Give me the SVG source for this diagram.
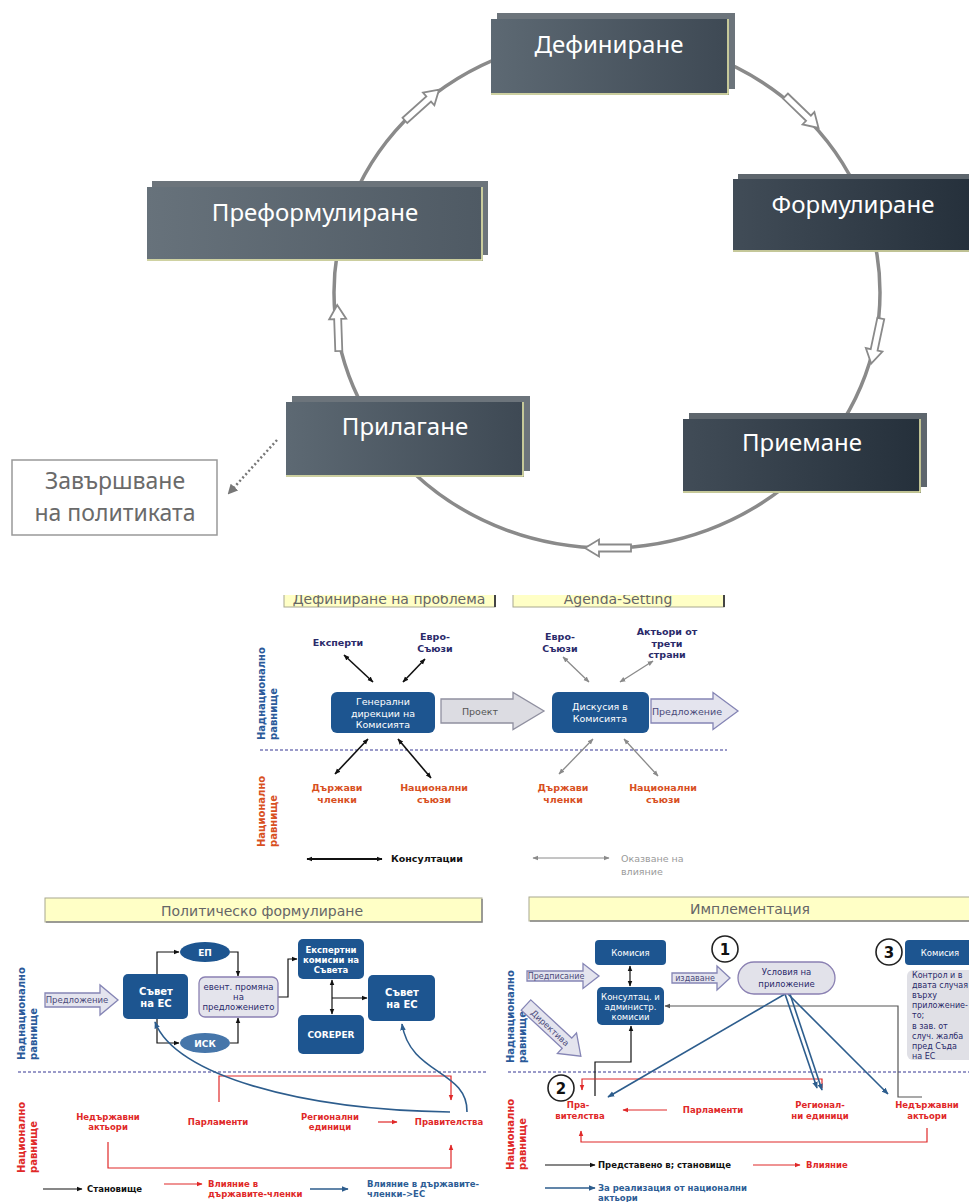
<svg xmlns="http://www.w3.org/2000/svg" width="969" height="1202" viewBox="0 0 969 1202">
<style>
.cyc{font-family:"Noto Sans","Open Sans",sans-serif;font-size:24px;fill:#fff;text-anchor:middle}
.end{font-family:"Noto Sans","Open Sans",sans-serif;font-size:23px;fill:#6a6a6a;text-anchor:middle}
.t{font-family:"DejaVu Sans","Liberation Sans",sans-serif;text-anchor:middle}
.s{font-family:"DejaVu Sans","Liberation Sans",sans-serif}
.b{font-weight:bold}
.navy{fill:#2a2a6a}
.red1{fill:#d8501f}
.red2{fill:#e02828}
.blu{fill:#2a5a9a}
.wh{fill:#fff}
.ttl{font-size:14px;fill:#666}
.box{fill:#1d5590}
.yl{fill:none;stroke:#f2f2b0;stroke-width:1.5}
.ln{fill:none;stroke:#111;stroke-width:1.2}
.lr{fill:none;stroke:#e02828;stroke-width:1.2}
.lb{fill:none;stroke:#2d5d8d;stroke-width:1.6}
.ld{fill:none;stroke:#555;stroke-width:1.2}
.dash{stroke:#7a7ab8;stroke-width:1.3;stroke-dasharray:3,2;fill:none}
.barr{fill:#fff;stroke:#8a8a8a;stroke-width:1.8}
.parr{fill:#e4e4ee;stroke:#8585b5;stroke-width:1.3}
.garr{fill:#dcdce2;stroke:#9090a0;stroke-width:1.3}
.tab{fill:#ffffc6;stroke:#a8a890;stroke-width:1}
.circ{fill:#fff;stroke:#222;stroke-width:1.6}
</style>
<defs>
<linearGradient id="g1" x1="0" y1="0" x2="1" y2="0"><stop offset="0" stop-color="#5d6973"/><stop offset="1" stop-color="#3e4954"/></linearGradient>
<linearGradient id="g2" x1="0" y1="0" x2="1" y2="0"><stop offset="0" stop-color="#414c57"/><stop offset="1" stop-color="#25303b"/></linearGradient>
<linearGradient id="g3" x1="0" y1="0" x2="1" y2="0"><stop offset="0" stop-color="#67727b"/><stop offset="1" stop-color="#4f5a64"/></linearGradient>
<marker id="mk" viewBox="0 0 10 10" refX="9" refY="5" markerWidth="6" markerHeight="6" markerUnits="userSpaceOnUse" orient="auto-start-reverse"><path d="M0,1 L10,5 L0,9 z" fill="#111"/></marker>
<marker id="mg" viewBox="0 0 10 10" refX="9" refY="5" markerWidth="6" markerHeight="6" markerUnits="userSpaceOnUse" orient="auto-start-reverse"><path d="M0,1 L10,5 L0,9 z" fill="#8a8a8a"/></marker>
<marker id="mr" viewBox="0 0 10 10" refX="9" refY="5" markerWidth="6" markerHeight="6" markerUnits="userSpaceOnUse" orient="auto-start-reverse"><path d="M0,1 L10,5 L0,9 z" fill="#e02828"/></marker>
<marker id="mb" viewBox="0 0 10 10" refX="9" refY="5" markerWidth="7" markerHeight="7" markerUnits="userSpaceOnUse" orient="auto-start-reverse"><path d="M0,1 L10,5 L0,9 z" fill="#2d5d8d"/></marker>
<marker id="md" viewBox="0 0 10 10" refX="9" refY="5" markerWidth="6" markerHeight="6" markerUnits="userSpaceOnUse" orient="auto-start-reverse"><path d="M0,1 L10,5 L0,9 z" fill="#555"/></marker>
<marker id="mdot" viewBox="0 0 10 10" refX="8" refY="5" markerWidth="10" markerHeight="10" markerUnits="userSpaceOnUse" orient="auto"><path d="M0,0 L10,5 L0,10 z" fill="#777"/></marker>
<path id="cy" d="M-23,-3.5 H9 V-8.5 L23,0 L9,8.5 V3.5 H-23 Z"/>
<clipPath id="topclip"><rect x="0" y="595" width="969" height="30"/></clipPath>
</defs>

<!-- ===== Cycle ===== -->
<g id="cycle-connectors">
<ellipse cx="607" cy="292.5" rx="273" ry="255.5" fill="none" stroke="#8a8a8a" stroke-width="3.5"/>
<use href="#cy" class="barr" transform="translate(422,105) rotate(-42)"/>
<use href="#cy" class="barr" transform="translate(802,112) rotate(44)"/>
<use href="#cy" class="barr" transform="translate(876,341) rotate(102)"/>
<use href="#cy" class="barr" transform="translate(608,548) rotate(180)"/>
<use href="#cy" class="barr" transform="translate(338,328) rotate(-92)"/>
<line x1="277" y1="440" x2="229" y2="493" stroke="#777" stroke-width="2.5" stroke-dasharray="2,2.5" marker-end="url(#mdot)"/>
</g>
<g id="n-definirane">
<rect x="497" y="13" width="238" height="76" fill="#6c747b"/>
<rect x="491" y="19" width="238" height="76" fill="url(#g1)"/>
<path class="yl" d="M728,19 V94 H491"/>
<text class="cyc" x="609" y="53">Дефиниране</text>
</g>
<g id="n-formulirane">
<rect x="738" y="174" width="240" height="73" fill="#5e666d"/>
<rect x="733" y="179" width="240" height="73" fill="url(#g2)"/>
<path class="yl" d="M733,251 H969"/>
<text class="cyc" x="853" y="213">Формулиране</text>
</g>
<g id="n-preformulirane">
<rect x="152" y="181" width="336" height="74" fill="#6c747b"/>
<rect x="147" y="187" width="336" height="74" fill="url(#g3)"/>
<path class="yl" d="M482,187 V260 H147"/>
<text class="cyc" x="315" y="221">Преформулиране</text>
</g>
<g id="n-prilagane">
<rect x="292" y="396" width="238" height="75" fill="#6c747b"/>
<rect x="286" y="402" width="238" height="75" fill="url(#g1)"/>
<path class="yl" d="M523,402 V476 H286"/>
<text class="cyc" x="405" y="435">Прилагане</text>
</g>
<g id="n-priemane">
<rect x="689" y="413" width="238" height="74" fill="#5e666d"/>
<rect x="683" y="419" width="238" height="74" fill="url(#g2)"/>
<path class="yl" d="M920,419 V492 H683"/>
<text class="cyc" x="802" y="451">Приемане</text>
</g>
<g id="n-zavarshvane">
<rect x="12" y="460" width="205" height="75" fill="#fff" stroke="#999" stroke-width="1.5"/>
<text class="end" x="115" y="489">Завършване</text>
<text class="end" x="115" y="521">на политиката</text>
</g>

<!-- ===== Middle: Definition / Agenda ===== -->
<g id="mid-tabs" clip-path="url(#topclip)">
<rect class="tab" x="284" y="585" width="211" height="22"/>
<path d="M495,586 V607" stroke="#444" stroke-width="2"/>
<text class="t ttl" x="389" y="604">Дефиниране на проблема</text>
<rect class="tab" x="513" y="585" width="211" height="22"/>
<path d="M724,586 V607" stroke="#444" stroke-width="2"/>
<text class="t ttl" x="618" y="604">Agenda-Setting</text>
</g>
<g id="mid-levels">
<text class="s b blu" font-size="10" transform="translate(265,740) rotate(-90)">Наднационално</text>
<text class="s b blu" font-size="10" transform="translate(277,740) rotate(-90)">равнище</text>
<text class="s b red1" font-size="10" transform="translate(265,847) rotate(-90)">Национално</text>
<text class="s b red1" font-size="10" transform="translate(277,847) rotate(-90)">равнище</text>
<line class="dash" x1="260" y1="750" x2="727" y2="750"/>
</g>
<g id="mid-connectors">
<line x1="344" y1="655" x2="373" y2="682" stroke="#111" stroke-width="1.6" marker-start="url(#mk)" marker-end="url(#mk)"/>
<line x1="425" y1="659" x2="403" y2="682" stroke="#111" stroke-width="1.6" marker-start="url(#mk)" marker-end="url(#mk)"/>
<line x1="368" y1="739" x2="335" y2="774" stroke="#111" stroke-width="1.6" marker-start="url(#mk)" marker-end="url(#mk)"/>
<line x1="398" y1="739" x2="431" y2="778" stroke="#111" stroke-width="1.6" marker-start="url(#mk)" marker-end="url(#mk)"/>
<line x1="563" y1="657" x2="589" y2="682" stroke="#8a8a8a" stroke-width="1.3" marker-start="url(#mg)" marker-end="url(#mg)"/>
<line x1="653" y1="661" x2="620" y2="682" stroke="#8a8a8a" stroke-width="1.3" marker-start="url(#mg)" marker-end="url(#mg)"/>
<line x1="593" y1="739" x2="559" y2="774" stroke="#8a8a8a" stroke-width="1.3" marker-start="url(#mg)" marker-end="url(#mg)"/>
<line x1="624" y1="739" x2="658" y2="776" stroke="#8a8a8a" stroke-width="1.3" marker-start="url(#mg)" marker-end="url(#mg)"/>
</g>
<g id="mid-general">
<rect class="box" x="331" y="692" width="104" height="41" rx="6"/>
<text class="t wh" font-size="9.5" x="383" y="705">Генерални</text>
<text class="t wh" font-size="9.5" x="383" y="716.5">дирекции на</text>
<text class="t wh" font-size="9.5" x="383" y="728">Комисията</text>
</g>
<g id="mid-proekt">
<path class="garr" d="M441,699 H513 V692.5 L544,711 L513,729.5 V723 H441 Z"/>
<text class="t" font-size="9.5" fill="#555" x="480" y="715">Проект</text>
</g>
<g id="mid-diskusia">
<rect class="box" x="552" y="692" width="97" height="41" rx="6"/>
<text class="t wh" font-size="9.5" x="600" y="710">Дискусия в</text>
<text class="t wh" font-size="9.5" x="600" y="721.5">Комисията</text>
</g>
<g id="mid-predlojenie">
<path class="parr" d="M651,699 H713 V692.5 L738,711 L713,729.5 V723 H651 Z"/>
<text class="t" font-size="9.5" fill="#4a4a7a" x="687" y="715">Предложение</text>
</g>
<g id="mid-labels">
<text class="t b navy" font-size="9.5" x="338" y="646">Експерти</text>
<text class="t b navy" font-size="9.5" x="435" y="640">Евро-</text>
<text class="t b navy" font-size="9.5" x="435" y="652">Съюзи</text>
<text class="t b navy" font-size="9.5" x="560" y="640">Евро-</text>
<text class="t b navy" font-size="9.5" x="560" y="652">Съюзи</text>
<text class="t b navy" font-size="9.5" x="667" y="635">Актьори от</text>
<text class="t b navy" font-size="9.5" x="667" y="646.5">трети</text>
<text class="t b navy" font-size="9.5" x="667" y="658">страни</text>
<text class="t b red1" font-size="9.5" x="337" y="791">Държави</text>
<text class="t b red1" font-size="9.5" x="337" y="803">членки</text>
<text class="t b red1" font-size="9.5" x="434" y="791">Национални</text>
<text class="t b red1" font-size="9.5" x="434" y="803">съюзи</text>
<text class="t b red1" font-size="9.5" x="563" y="791">Държави</text>
<text class="t b red1" font-size="9.5" x="563" y="803">членки</text>
<text class="t b red1" font-size="9.5" x="663" y="791">Национални</text>
<text class="t b red1" font-size="9.5" x="663" y="803">съюзи</text>
</g>
<g id="mid-legend">
<line x1="307" y1="859" x2="382" y2="859" stroke="#111" stroke-width="2" marker-start="url(#mk)" marker-end="url(#mk)"/>
<text class="s b" font-size="9.5" fill="#111" x="391" y="862">Консултации</text>
<line x1="533" y1="858" x2="609" y2="858" stroke="#8a8a8a" stroke-width="1" marker-start="url(#mg)" marker-end="url(#mg)"/>
<text class="s" font-size="9.5" fill="#9a9a9a" x="621" y="862">Оказване на</text>
<text class="s" font-size="9.5" fill="#9a9a9a" x="621" y="875">влияние</text>
</g>

<!-- ===== Bottom left: Political formulation ===== -->
<g id="bl-title">
<rect class="tab" x="45" y="898" width="437" height="24"/>
<path d="M482,899 V922 H46" stroke="#888" stroke-width="1.5" fill="none"/>
<text class="t ttl" x="262" y="916">Политическо формулиране</text>
</g>
<g id="bl-levels">
<text class="s b blu" font-size="10" transform="translate(25,1060) rotate(-90)">Наднационално</text>
<text class="s b blu" font-size="10" transform="translate(37,1060) rotate(-90)">равнище</text>
<text class="s b" font-size="10" fill="#e02828" transform="translate(25,1173) rotate(-90)">Национално</text>
<text class="s b" font-size="10" fill="#e02828" transform="translate(37,1173) rotate(-90)">равнище</text>
<line class="dash" x1="18" y1="1072" x2="487" y2="1072"/>
</g>
<g id="bl-connectors">
<path class="ln" d="M157,974 V952 H179" marker-end="url(#mk)"/>
<path class="ln" d="M230,952 H238 V976" marker-end="url(#mk)"/>
<path class="ln" d="M157,1019 V1043 H179" marker-end="url(#mk)"/>
<path class="ln" d="M230,1043 H238 V1018" marker-end="url(#mk)"/>
<path class="ln" d="M278,997 H288 V959 H297" marker-end="url(#mk)"/>
<path class="ln" d="M332,980 V1014" marker-start="url(#mk)" marker-end="url(#mk)"/>
<path class="ln" d="M332,998 H367" marker-end="url(#mk)"/>
<path class="lr" d="M219,1102 V1076 H451 V1100" marker-end="url(#mr)"/>
<path class="lr" d="M108,1142 V1168 H451 V1145" marker-end="url(#mr)"/>
<path class="lr" d="M378,1122 H397" marker-end="url(#mr)"/>
<path class="lb" d="M450,1112 C300,1110 175,1075 155,1022" marker-end="url(#mb)"/>
<path class="lb" d="M467,1112 C468,1070 410,1075 402,1024" marker-end="url(#mb)"/>
</g>
<g id="bl-predlojenie">
<path class="parr" d="M45,993 H100 V985 L118,1000 L100,1015 V1007 H45 Z"/>
<text class="t" font-size="8.5" fill="#4a4a7a" x="77" y="1003">Предложение</text>
</g>
<g id="bl-savet1">
<rect class="box" x="123" y="974" width="65" height="45" rx="5"/>
<text class="t b wh" font-size="10" x="156" y="995">Съвет</text>
<text class="t b wh" font-size="10" x="156" y="1007">на ЕС</text>
</g>
<g id="bl-ep">
<ellipse cx="205" cy="952" rx="25" ry="10" class="box"/>
<text class="t b wh" font-size="9" x="205" y="955.5">ЕП</text>
</g>
<g id="bl-isk">
<ellipse cx="205" cy="1043" rx="25" ry="10" fill="#4676aa"/>
<text class="t b wh" font-size="9" x="205" y="1046.5">ИСК</text>
</g>
<g id="bl-event">
<rect x="199" y="977" width="79" height="40" rx="6" fill="#e4e4ec" stroke="#8a80b2" stroke-width="1.3"/>
<text class="t navy" font-size="8.5" x="238.5" y="990">евент. промяна</text>
<text class="t navy" font-size="8.5" x="238.5" y="1000">на</text>
<text class="t navy" font-size="8.5" x="238.5" y="1010">предложението</text>
</g>
<g id="bl-expert">
<rect class="box" x="298" y="939" width="66" height="40" rx="5"/>
<text class="t b wh" font-size="8.5" x="331" y="953">Експертни</text>
<text class="t b wh" font-size="8.5" x="331" y="963">комисии на</text>
<text class="t b wh" font-size="8.5" x="331" y="973">Съвета</text>
</g>
<g id="bl-coreper">
<rect class="box" x="298" y="1015" width="66" height="39" rx="5"/>
<text class="t b wh" font-size="9" x="331" y="1038">COREPER</text>
</g>
<g id="bl-savet2">
<rect class="box" x="368" y="975" width="67" height="46" rx="5"/>
<text class="t b wh" font-size="10" x="402" y="996">Съвет</text>
<text class="t b wh" font-size="10" x="402" y="1008">на ЕС</text>
</g>
<g id="bl-labels">
<text class="t b red2" font-size="8.5" x="108" y="1120">Недържавни</text>
<text class="t b red2" font-size="8.5" x="108" y="1130">актьори</text>
<text class="t b red2" font-size="8.5" x="218" y="1125">Парламенти</text>
<text class="t b red2" font-size="8.5" x="330" y="1120">Регионални</text>
<text class="t b red2" font-size="8.5" x="330" y="1130">единици</text>
<text class="t b red2" font-size="8.5" x="449" y="1125">Правителства</text>
</g>
<g id="bl-legend">
<path class="ln" d="M43,1189 H82" marker-end="url(#mk)"/>
<text class="s b" font-size="8.5" fill="#111" x="87" y="1192">Становище</text>
<path class="lr" d="M164,1184 H202" marker-end="url(#mr)"/>
<text class="s b red2" font-size="8.5" x="208" y="1187">Влияние в</text>
<text class="s b red2" font-size="8.5" x="208" y="1197">държавите-членки</text>
<path class="lb" d="M310,1189 H348" stroke-width="1.2" marker-end="url(#mb)"/>
<text class="s b" font-size="8.5" fill="#2d5d95" x="367" y="1187">Влияние в държавите-</text>
<text class="s b" font-size="8.5" fill="#2d5d95" x="367" y="1197">членки-&gt;ЕС</text>
</g>

<!-- ===== Bottom right: Implementation ===== -->
<g id="br-title">
<rect class="tab" x="529" y="897" width="446" height="24"/>
<path d="M530,921 H969" stroke="#888" stroke-width="1.5" fill="none"/>
<text class="t ttl" x="750" y="914">Имплементация</text>
</g>
<g id="br-levels">
<text class="s b blu" font-size="10" transform="translate(514,1063) rotate(-90)">Наднационално</text>
<text class="s b blu" font-size="10" transform="translate(526,1063) rotate(-90)">равнище</text>
<text class="s b" font-size="10" fill="#e02828" transform="translate(514,1170) rotate(-90)">Национално</text>
<text class="s b" font-size="10" fill="#e02828" transform="translate(526,1170) rotate(-90)">равнище</text>
<line class="dash" x1="508" y1="1072" x2="969" y2="1072"/>
</g>
<g id="br-connectors">
<path class="ln" d="M630,966 V986" marker-start="url(#mk)" marker-end="url(#mk)"/>
<path class="ld" d="M922,1097 H898 V1006 H665" marker-end="url(#md)"/>
<path class="ln" d="M595,1096 V1062 H631 V1026" marker-end="url(#mk)"/>
<path class="lr" d="M822,1088 V1079 H582 V1090" marker-end="url(#mr)"/>
<path class="lr" d="M667,1110 H623" marker-end="url(#mr)"/>
<path class="lr" d="M927,1128 V1142 H581 V1131" marker-end="url(#mr)"/>
<line class="lb" x1="785" y1="994" x2="608" y2="1097" marker-end="url(#mb)"/>
<line class="lb" x1="785" y1="994" x2="817" y2="1088" marker-end="url(#mb)"/>
<line class="lb" x1="790" y1="994" x2="822" y2="1090" marker-end="url(#mb)"/>
<line class="lb" x1="788" y1="994" x2="888" y2="1094" marker-end="url(#mb)"/>
</g>
<g id="br-komisia">
<rect class="box" x="595" y="940" width="71" height="25" rx="4"/>
<text class="t wh" font-size="8.5" x="630.5" y="956">Комисия</text>
</g>
<g id="br-predpisanie">
<path class="parr" d="M527,971 H583 V963.5 L599,976 L583,988.5 V981 H527 Z"/>
<text class="t" font-size="8" fill="#4a4a7a" x="556" y="979">Предписание</text>
</g>
<g id="br-konsultac">
<rect class="box" x="597" y="987" width="67" height="38" rx="5"/>
<text class="t wh" font-size="8.5" x="630.5" y="1000">Консултац. и</text>
<text class="t wh" font-size="8.5" x="630.5" y="1010">администр.</text>
<text class="t wh" font-size="8.5" x="630.5" y="1020">комисии</text>
</g>
<g id="br-direktiva">
<path class="parr" transform="translate(526,1005) rotate(43)" d="M0,-7 H56 V-14 L75,0 L56,14 V7 H0 Z"/>
<text class="t" font-size="8.5" fill="#4a4a7a" transform="translate(550,1028) rotate(43)" y="3">Директива</text>
</g>
<g id="br-izdavane">
<path class="parr" d="M672,973 H717 V966 L730,978 L717,990 V983 H672 Z"/>
<text class="t" font-size="8" fill="#4a4a7a" x="695" y="981">издаване</text>
</g>
<g id="br-c1">
<circle class="circ" cx="725" cy="949" r="13"/>
<text class="t b" font-size="15" fill="#111" x="725" y="954.5">1</text>
</g>
<g id="br-uslovia">
<rect x="738" y="962" width="97" height="32" rx="16" fill="#e2e2ea" stroke="#8a80b2" stroke-width="1.3"/>
<text class="t navy" font-size="8.5" x="786.5" y="975">Условия на</text>
<text class="t navy" font-size="8.5" x="786.5" y="987">приложение</text>
</g>
<g id="br-c3">
<circle class="circ" cx="889" cy="952" r="13"/>
<text class="t b" font-size="15" fill="#111" x="889" y="957.5">3</text>
</g>
<g id="br-komisia2">
<rect class="box" x="905" y="940" width="75" height="25" rx="4"/>
<text class="t wh" font-size="8.5" x="940" y="956">Комисия</text>
</g>
<g id="br-kontrol">
<rect x="907" y="970" width="75" height="90" rx="6" fill="#e0e0e6"/>
<text class="s navy" font-size="8" x="912" y="978">Контрол и в</text>
<text class="s navy" font-size="8" x="912" y="988">двата случая</text>
<text class="s navy" font-size="8" x="912" y="998">върху</text>
<text class="s navy" font-size="8" x="912" y="1008">приложение-</text>
<text class="s navy" font-size="8" x="912" y="1018">то;</text>
<text class="s navy" font-size="8" x="912" y="1029">в зав. от</text>
<text class="s navy" font-size="8" x="912" y="1039">случ. жалба</text>
<text class="s navy" font-size="8" x="912" y="1049">пред Съда</text>
<text class="s navy" font-size="8" x="912" y="1059">на ЕС</text>
</g>
<g id="br-c2">
<circle class="circ" cx="561" cy="1088" r="13"/>
<text class="t b" font-size="15" fill="#111" x="561" y="1093.5">2</text>
</g>
<g id="br-labels">
<text class="t b red2" font-size="8.5" x="578" y="1108">Пра-</text>
<text class="t b red2" font-size="8.5" x="580" y="1119">вителства</text>
<text class="t b red2" font-size="8.5" x="713" y="1113">Парламенти</text>
<text class="t b red2" font-size="8.5" x="820" y="1108">Регионал-</text>
<text class="t b red2" font-size="8.5" x="820" y="1119">ни единици</text>
<text class="t b red2" font-size="8.5" x="927" y="1108">Недържавни</text>
<text class="t b red2" font-size="8.5" x="927" y="1119">актьори</text>
</g>
<g id="br-legend">
<path class="ln" d="M545,1165 H595" marker-end="url(#mk)"/>
<text class="s b" font-size="8.5" fill="#111" x="598" y="1168">Представено в; становище</text>
<path class="lr" d="M753,1165 H800" marker-end="url(#mr)"/>
<text class="s b red2" font-size="8.5" x="806" y="1168">Влияние</text>
<path class="lb" d="M545,1188 H595" stroke-width="2" marker-end="url(#mb)"/>
<text class="s b" font-size="8.5" fill="#2d5d95" x="598" y="1191">За реализация от национални</text>
<text class="s b" font-size="8.5" fill="#2d5d95" x="598" y="1201">актьори</text>
</g>
</svg>
